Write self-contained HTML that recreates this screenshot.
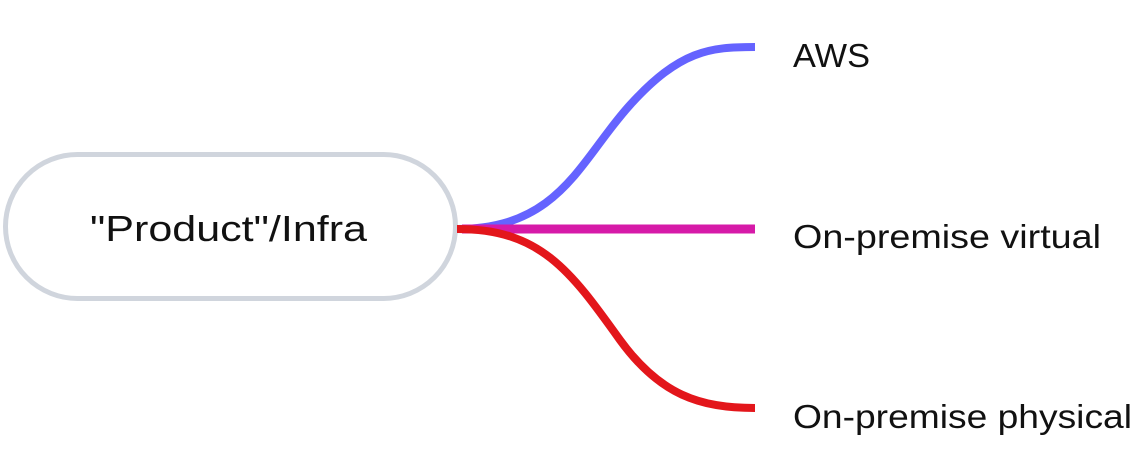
<!DOCTYPE html>
<html><head><meta charset="utf-8"><style>
html,body{margin:0;padding:0;background:#fff;width:1137px;height:455px;overflow:hidden}
svg{display:block}
text{font-family:"Liberation Sans",sans-serif;fill:#111}
</style></head><body>
<svg width="1137" height="455" viewBox="0 0 1137 455">
<rect x="5.5" y="154.5" width="450" height="144" rx="72" ry="72" fill="#fff" stroke="#d0d5dd" stroke-width="5"/>
<text x="90" y="241" font-size="36" textLength="277" lengthAdjust="spacingAndGlyphs">"Product"/Infra</text>
<path d="M457 229 C 560 229, 580 160, 630 105 C 680 50, 710 47, 755 47" fill="none" stroke="#6563ff" stroke-width="8"/>
<path d="M462 229 L755 229" fill="none" stroke="#d61aa8" stroke-width="9"/>
<path d="M457 229 C 540 229, 570 270, 620 340 C 660 395, 700 408, 755 408" fill="none" stroke="#e3161b" stroke-width="8"/>
<text x="793" y="67" font-size="33" textLength="77" lengthAdjust="spacingAndGlyphs">AWS</text>
<text x="793" y="248" font-size="33" textLength="308" lengthAdjust="spacingAndGlyphs">On-premise virtual</text>
<text x="793" y="428" font-size="33" textLength="339" lengthAdjust="spacingAndGlyphs">On-premise physical</text>
</svg>
</body></html>
